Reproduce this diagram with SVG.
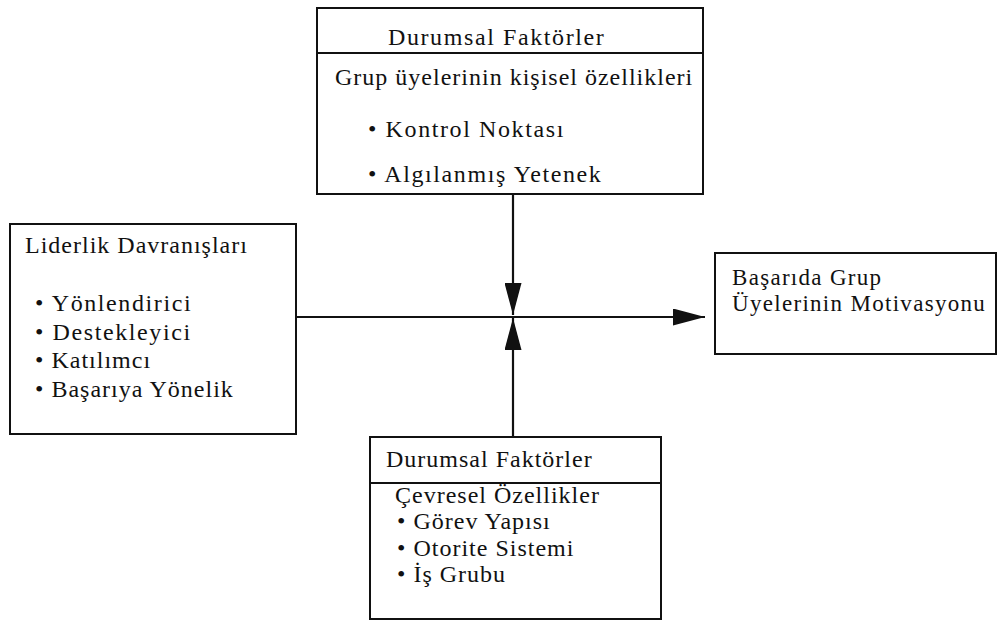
<svg xmlns="http://www.w3.org/2000/svg" width="999" height="631" viewBox="0 0 999 631">
  <style>
    .box { fill: #ffffff; stroke: #111111; stroke-width: 2; }
    .rule { stroke: #111111; stroke-width: 2; }
    .wire { stroke: #111111; stroke-width: 2.2; fill: none; }
    text { font-family: "Liberation Serif", "Times New Roman", serif; font-size: 24px; fill: #111111; letter-spacing: 1px; }
    .wide { letter-spacing: 1.6px; }
    .outcome { font-size: 23px; letter-spacing: 1.3px; }
  </style>
  <defs>
    <marker id="arrow" markerUnits="userSpaceOnUse" markerWidth="32" markerHeight="17" refX="32" refY="8.5" orient="auto">
      <path d="M0,0 L32,8.5 L0,17 z" fill="#111111"/>
    </marker>
  </defs>
  <rect width="999" height="631" fill="#ffffff"/>

  <!-- connectors -->
  <g id="connectors">
    <line class="wire" x1="513" y1="194" x2="513" y2="315" marker-end="url(#arrow)"/>
    <line class="wire" x1="513" y1="437" x2="513" y2="318" marker-end="url(#arrow)"/>
    <line class="wire" x1="296" y1="317" x2="705" y2="317" marker-end="url(#arrow)"/>
  </g>

  <!-- situational factors: personal characteristics -->
  <g id="personal-factors">
    <rect class="box" x="317" y="8" width="386" height="186"/>
    <line class="rule" x1="317" y1="53" x2="703" y2="53"/>
    <text class="wide" x="388" y="45">Durumsal Faktörler</text>
    <text x="335" y="85">Grup üyelerinin kişisel özellikleri</text>
    <text class="wide" x="368" y="137">• Kontrol Noktası</text>
    <text class="wide" x="368" y="182">• Algılanmış Yetenek</text>
  </g>

  <!-- leader behaviours -->
  <g id="leader-behaviours">
    <rect class="box" x="10" y="224" width="286" height="210"/>
    <text x="25" y="253">Liderlik Davranışları</text>
    <text class="wide" x="35" y="311">• Yönlendirici</text>
    <text class="wide" x="35" y="340">• Destekleyici</text>
    <text x="35" y="368">• Katılımcı</text>
    <text x="35" y="397">• Başarıya Yönelik</text>
  </g>

  <!-- outcome -->
  <g id="motivation">
    <rect class="box" x="715" y="253" width="281" height="101"/>
    <text class="outcome" x="732" y="285">Başarıda Grup</text>
    <text class="outcome" x="732" y="311">Üyelerinin Motivasyonu</text>
  </g>

  <!-- situational factors: environmental characteristics -->
  <g id="environment-factors">
    <rect class="box" x="370" y="437" width="291" height="182"/>
    <line class="rule" x1="370" y1="483" x2="661" y2="483"/>
    <text x="386" y="467">Durumsal Faktörler</text>
    <text x="395" y="503">Çevresel Özellikler</text>
    <text x="397" y="529">• Görev Yapısı</text>
    <text x="397" y="556">• Otorite Sistemi</text>
    <text x="397" y="582">• İş Grubu</text>
  </g>
</svg>
